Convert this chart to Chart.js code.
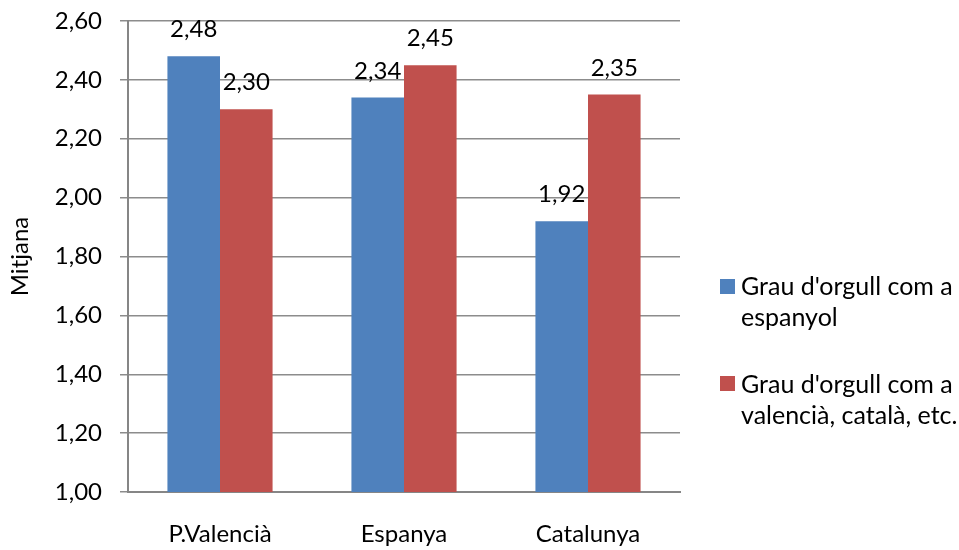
<!DOCTYPE html>
<html>
<head>
<meta charset="utf-8">
<script src="https://cdn.jsdelivr.net/npm/chart.js@4"></script>
<style>
html,body{margin:0;padding:0;background:#fff;}
#wrap{position:relative;width:959px;height:550px;}
</style>
</head>
<body>
<div id="wrap"><canvas id="c" width="959" height="550"></canvas></div>
<script>
const categories = ['P.Valencià', 'Espanya', 'Catalunya'];
const seriesNames = [["Grau d'orgull com a", 'espanyol'], ["Grau d'orgull com a", 'valencià, català, etc.']];
const espanyol = [2.48, 2.34, 1.92];
const valencia = [2.30, 2.45, 2.35];
const yMin = 1.0, yMax = 2.6, yStep = 0.2;
const yTitle = 'Mitjana';

const FAMILY = "Lato, 'Open Sans', sans-serif";
const FS = 24;
const LFS = 25;
const colors = ['#4F81BD', '#C0504D'];
const fmt = v => v.toFixed(2).replace('.', ',');

const dataLabels = {
  id: 'dataLabels',
  afterDatasetsDraw(chart) {
    const ctx = chart.ctx;
    ctx.save();
    ctx.font = FS + 'px ' + FAMILY;
    ctx.fillStyle = '#000';
    ctx.textAlign = 'center';
    ctx.textBaseline = 'alphabetic';
    chart.data.datasets.forEach((ds, i) => {
      chart.getDatasetMeta(i).data.forEach((bar, j) => {
        ctx.fillText(fmt(ds.data[j]), bar.x, bar.y - 19);
      });
    });
    ctx.restore();
  }
};

const legendPlugin = {
  id: 'customLegend',
  afterDraw(chart) {
    const ctx = chart.ctx;
    ctx.save();
    ctx.font = LFS + 'px ' + FAMILY;
    ctx.textAlign = 'left';
    ctx.textBaseline = 'alphabetic';
    const entries = [{sq: 279, b: 295}, {sq: 376, b: 393}];
    chart.data.datasets.forEach((ds, i) => {
      const e = entries[i];
      ctx.fillStyle = ds.backgroundColor;
      ctx.fillRect(720, e.sq, 15, 15);
      ctx.fillStyle = '#000';
      seriesNames[i].forEach((line, k) => {
        ctx.fillText(line, 741, e.b + k * 31);
      });
    });
    ctx.restore();
  }
};

new Chart(document.getElementById('c'), {
  type: 'bar',
  data: {
    labels: categories,
    datasets: [
      {label: seriesNames[0].join(' '), data: espanyol, backgroundColor: colors[0]},
      {label: seriesNames[1].join(' '), data: valencia, backgroundColor: colors[1]}
    ]
  },
  options: {
    responsive: false,
    animation: false,
    layout: {padding: {left: 0, right: 279, top: 21, bottom: 0}},
    datasets: {bar: {categoryPercentage: 2 / 3.5, barPercentage: 1.0}},
    plugins: {legend: {display: false}, tooltip: {enabled: false}},
    scales: {
      x: {
        grid: {display: true, drawOnChartArea: false, drawTicks: false},
        border: {display: true, color: '#868686', width: 2},
        ticks: {color: '#000', font: {family: FAMILY, size: FS}, padding: 28},
        afterFit(s) { s.height = 58; s.paddingLeft = 0; s.paddingRight = 0; }
      },
      y: {
        min: yMin, max: yMax,
        grid: {color: '#8c8c8c', lineWidth: 1.5, tickLength: 8},
        border: {display: true, color: '#868686', width: 2},
        ticks: {stepSize: yStep, color: '#000', font: {family: FAMILY, size: FS}, padding: 18,
                callback: v => fmt(v)},
        title: {display: true, text: yTitle, color: '#000', font: {family: FAMILY, size: FS}, padding: {top: 6, bottom: 0}},
        afterFit(s) { s.width = 128; s.paddingTop = 0; s.paddingBottom = 0; }
      }
    }
  },
  plugins: [dataLabels, legendPlugin]
});
</script>
</body>
</html>
